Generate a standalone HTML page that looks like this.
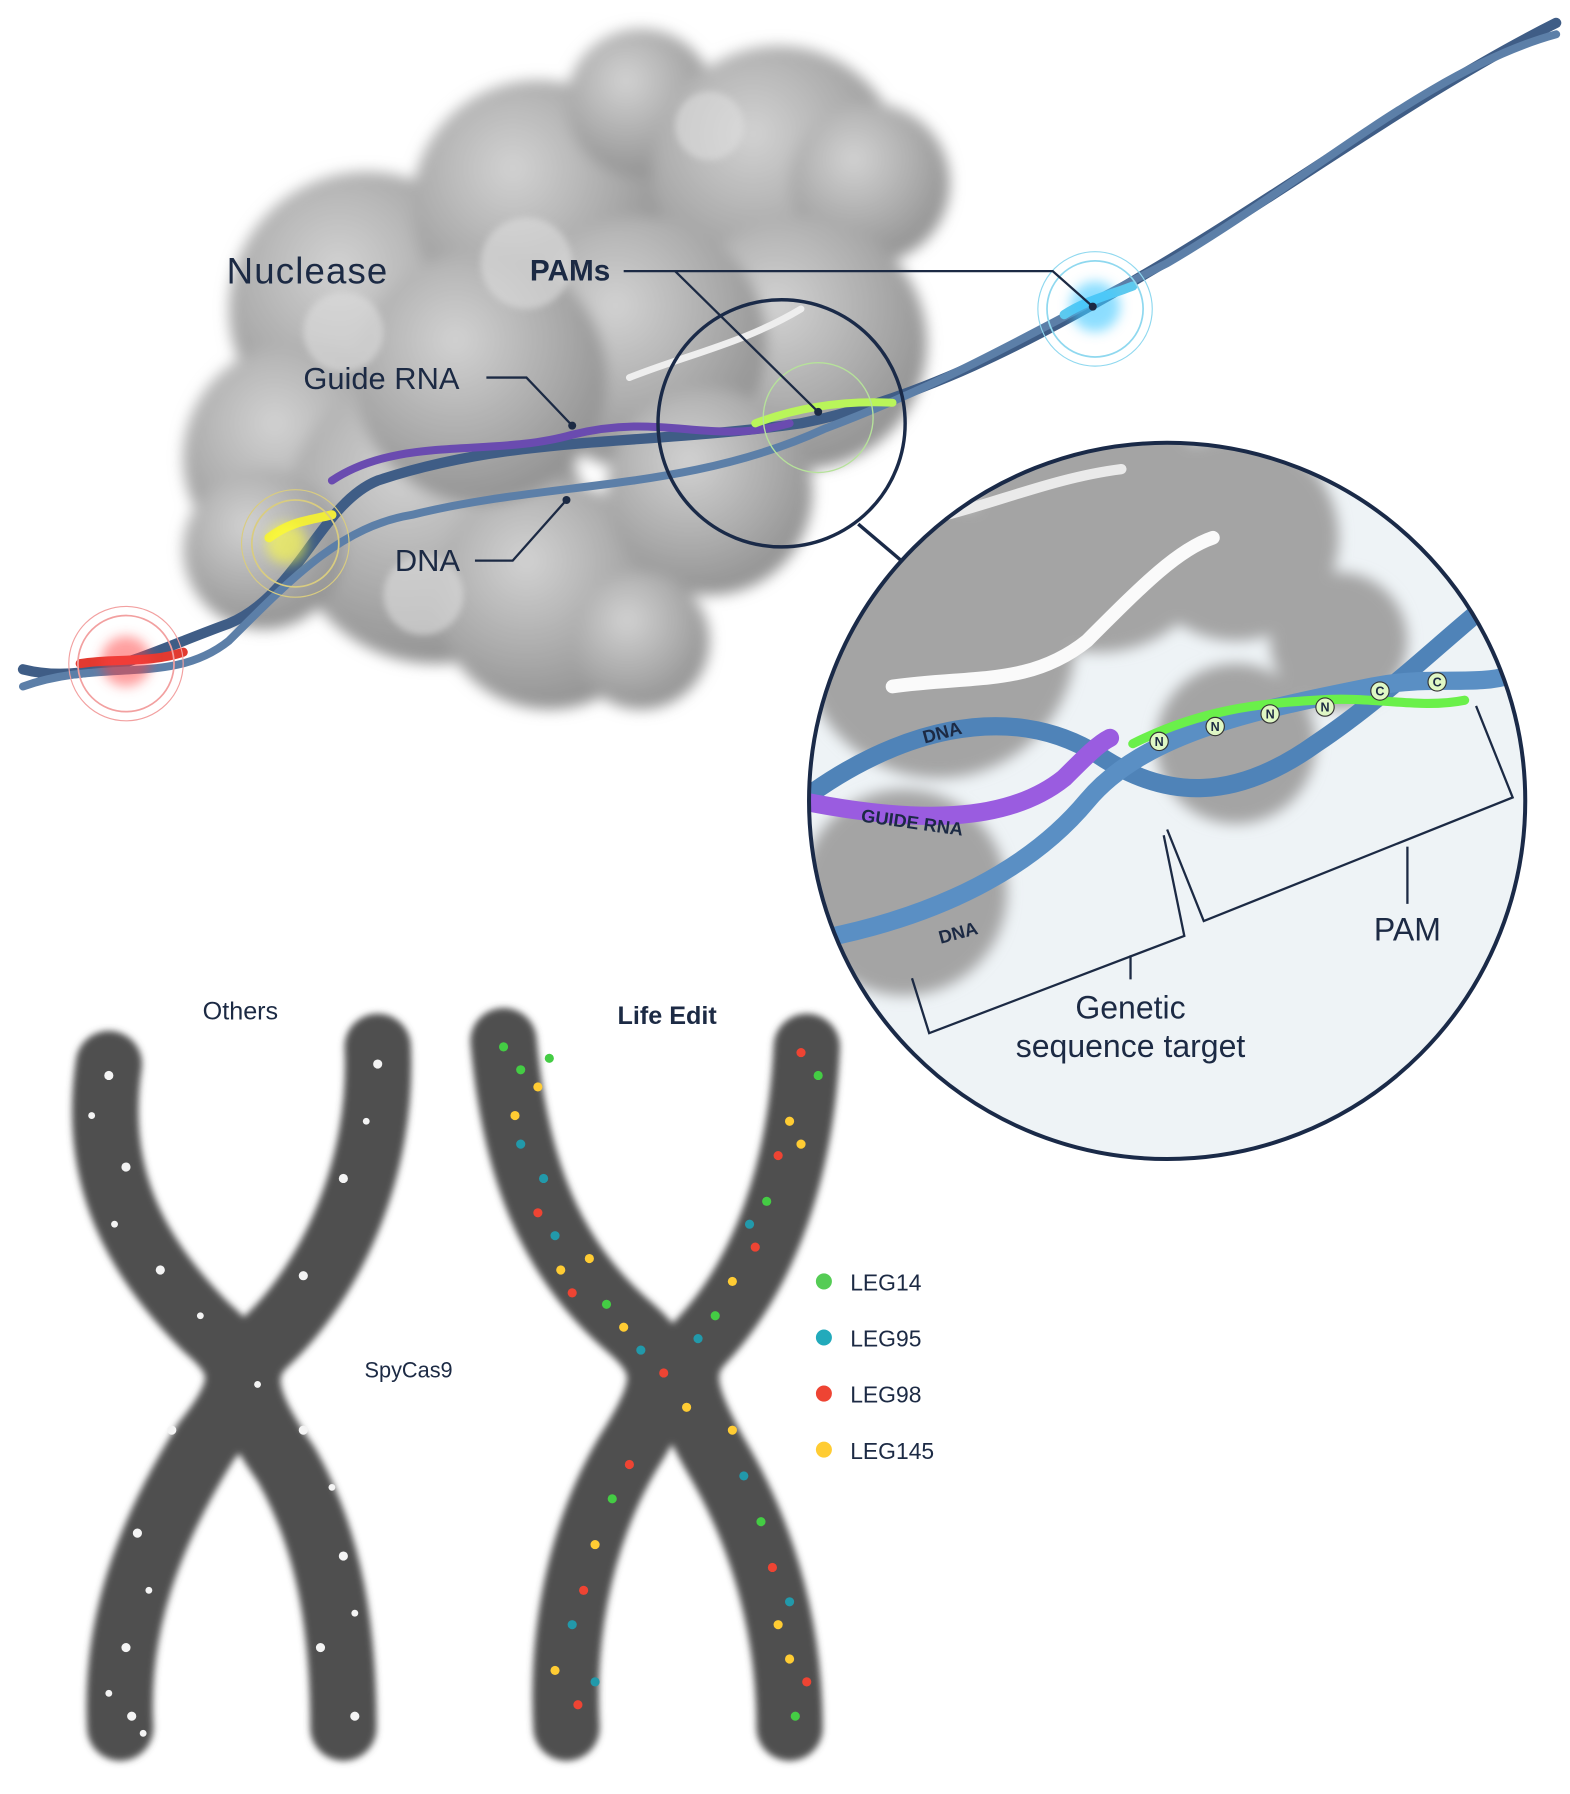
<!DOCTYPE html>
<html><head><meta charset="utf-8"><style>
html,body{margin:0;padding:0;background:#fff;}
svg{display:block;}
text{font-family:"Liberation Sans",sans-serif;fill:#1c2a44;}
</style></head><body>
<svg width="1570" height="1794" viewBox="0 0 1372 1568" xmlns="http://www.w3.org/2000/svg">
<defs>
<filter id="bl" x="-20%" y="-20%" width="140%" height="140%"><feGaussianBlur stdDeviation="6"/></filter>
<filter id="bl2"><feGaussianBlur stdDeviation="3"/></filter>
<filter id="glow" x="-50%" y="-50%" width="200%" height="200%"><feGaussianBlur stdDeviation="5"/></filter>
<radialGradient id="blob" cx="40%" cy="35%" r="70%"><stop offset="0" stop-color="#d2d2d2"/><stop offset="1" stop-color="#8f8f8f"/></radialGradient>
<clipPath id="zc"><circle cx="1020" cy="700" r="313"/></clipPath>
</defs>

<g filter="url(#bl)" fill="url(#blob)">
<circle cx="320" cy="270" r="120"/><circle cx="470" cy="180" r="110"/><circle cx="560" cy="90" r="65"/>
<circle cx="680" cy="150" r="110"/><circle cx="760" cy="160" r="70"/><circle cx="700" cy="300" r="110"/>
<circle cx="560" cy="300" r="110"/><circle cx="260" cy="400" r="100"/><circle cx="380" cy="450" r="130"/>
<circle cx="480" cy="520" r="100"/><circle cx="620" cy="430" r="90"/><circle cx="230" cy="480" r="70"/>
<circle cx="420" cy="330" r="110"/><circle cx="560" cy="560" r="60"/>
</g>
<g fill="#dedede" opacity=".6" filter="url(#bl2)">
<circle cx="460" cy="230" r="40"/><circle cx="300" cy="290" r="35"/><circle cx="620" cy="110" r="30"/><circle cx="370" cy="520" r="35"/>
</g>

<g fill="none" stroke-linecap="round">
<path d="M20,585 C80,600 130,570 200,545 C260,520 280,440 330,420 C450,380 560,390 700,370 C800,350 900,300 1000,240 C1120,170 1240,80 1360,20" stroke="#3f5d86" stroke-width="9"/>
<path d="M20,600 C90,575 150,600 200,560 C260,500 300,460 360,450 C480,420 600,430 720,375 C840,330 920,280 1020,230 C1140,160 1250,60 1360,30" stroke="#5c7fa8" stroke-width="7"/>
<path d="M290,420 C350,380 430,400 500,380 C580,360 620,390 690,370" stroke="#6a4bb0" stroke-width="7"/>
<path d="M660,370 C700,355 740,350 780,352" stroke="#b9f55a" stroke-width="7"/>
<path d="M235,470 C255,455 270,455 290,450" stroke="#f0ec3a" stroke-width="8"/>
<path d="M70,580 C100,575 130,580 160,570" stroke="#e23a30" stroke-width="8"/>
<path d="M930,275 C950,262 970,258 990,250" stroke="#5ec9ee" stroke-width="8"/>
<path d="M550,330 C600,310 650,300 700,270" stroke="#eee" stroke-width="6"/>
</g>
<g fill="none">
<circle cx="110" cy="580" r="42" stroke="#f2a0a0" stroke-width="1.5"/><circle cx="110" cy="580" r="50" stroke="#f2a0a0" stroke-width="1"/>
<circle cx="258" cy="475" r="38" stroke="#d9cc80" stroke-width="1.5"/><circle cx="258" cy="475" r="47" stroke="#d9cc80" stroke-width="1"/>
<circle cx="957" cy="270" r="42" stroke="#8fd8ef" stroke-width="1.5"/><circle cx="957" cy="270" r="50" stroke="#8fd8ef" stroke-width="1"/>
<circle cx="715" cy="365" r="48" stroke="#b6e29a" stroke-width="1.2"/>
</g>
<circle cx="110" cy="578" r="22" fill="#ff4040" opacity=".5" filter="url(#glow)"/>
<circle cx="957" cy="268" r="22" fill="#40c8ff" opacity=".6" filter="url(#glow)"/>
<circle cx="250" cy="475" r="18" fill="#ffff40" opacity=".6" filter="url(#glow)"/>

<text x="198" y="248" font-size="32" letter-spacing="1">Nuclease</text>
<text x="463" y="245" font-size="26" font-weight="bold">PAMs</text>
<text x="265" y="340" font-size="27">Guide RNA</text>
<text x="345" y="499" font-size="27">DNA</text>
<g stroke="#1c2a44" stroke-width="2" fill="none">
<polyline points="545,237 920,237 955,268"/>
<line x1="590" y1="237" x2="715" y2="360"/>
<polyline points="425,330 460,330 500,372"/>
<polyline points="415,490 448,490 495,437"/>
</g>
<g fill="#1c2a44"><circle cx="955" cy="268" r="3.5"/><circle cx="715" cy="360" r="3.5"/><circle cx="500" cy="372" r="3.5"/><circle cx="495" cy="437" r="3.5"/></g>

<circle cx="683" cy="370" r="108" fill="none" stroke="#1a2a48" stroke-width="3"/>
<line x1="750" y1="458" x2="790" y2="492" stroke="#1a2a48" stroke-width="3"/>

<circle cx="1020" cy="700" r="313" fill="#eef3f6"/>
<g clip-path="url(#zc)">
<g filter="url(#bl)" fill="#a4a4a4">
<circle cx="820" cy="560" r="120"/><circle cx="960" cy="460" r="110"/><circle cx="1080" cy="470" r="90"/>
<circle cx="790" cy="780" r="90"/><circle cx="1080" cy="650" r="70"/><circle cx="1170" cy="560" r="60"/>
</g>
<g fill="none" stroke-linecap="round">
<path d="M780,600 C850,590 900,600 950,560 C1000,510 1030,480 1060,470" stroke="#fafafa" stroke-width="12"/>
<path d="M760,460 C830,460 900,420 980,410" stroke="#eaeaea" stroke-width="9"/>
<path d="M700,700 C780,640 880,610 960,660 C1020,700 1080,700 1150,650 C1210,610 1260,560 1310,520" stroke="#4f83b8" stroke-width="16"/>
<path d="M720,820 C820,800 900,760 950,700 C1000,640 1100,620 1200,600 C1250,590 1290,600 1320,590" stroke="#5a8fc4" stroke-width="16"/>
<path d="M700,700 C800,720 880,720 930,680 C950,660 960,650 970,645" stroke="#9a5ce0" stroke-width="16"/>
<path d="M990,650 C1050,620 1100,615 1150,612 C1200,608 1240,620 1280,612" stroke="#6af04a" stroke-width="8"/>
</g>
<g fill="#dff7c4" stroke="#333" stroke-width="1"><circle cx="1013" cy="648" r="8"/><circle cx="1062" cy="635" r="8"/><circle cx="1110" cy="624" r="8"/><circle cx="1158" cy="618" r="8"/><circle cx="1206" cy="604" r="8"/><circle cx="1256" cy="596" r="8"/></g>
<g font-size="11" font-weight="bold" text-anchor="middle"><text x="1013" y="652">N</text><text x="1062" y="639">N</text><text x="1110" y="628">N</text><text x="1158" y="622">N</text><text x="1206" y="608">C</text><text x="1256" y="600">C</text></g>
<text x="808" y="650" font-size="16" font-weight="bold" transform="rotate(-15 808 650)">DNA</text>
<text x="752" y="718" font-size="16" font-weight="bold" fill="#2d1d5a" transform="rotate(8 752 718)">GUIDE RNA</text>
<text x="822" y="825" font-size="16" font-weight="bold" transform="rotate(-15 822 825)">DNA</text>
</g>
<circle cx="1020" cy="700" r="313" fill="none" stroke="#1a2a48" stroke-width="3.5"/>
<g stroke="#1c2a44" stroke-width="2" fill="none">
<polyline points="797,855 812,903 1035,818 1017,730"/>
<line x1="988" y1="835" x2="988" y2="856"/>
<polyline points="1020,725 1052,805 1322,697 1290,617"/>
<line x1="1230" y1="740" x2="1230" y2="790"/>
</g>
<text x="1230" y="822" font-size="28" text-anchor="middle">PAM</text>
<text x="988" y="890" font-size="28" text-anchor="middle">Genetic</text>
<text x="988" y="924" font-size="28" text-anchor="middle">sequence target</text>

<g fill="none" stroke="#505050" stroke-width="58" stroke-linecap="round" filter="url(#bl2)">
<path d="M95,930 C80,1030 120,1100 180,1160 C215,1190 220,1210 180,1260 C130,1340 100,1420 105,1510"/>
<path d="M330,915 C335,1020 290,1120 230,1175 C205,1200 215,1230 250,1280 C290,1350 300,1430 300,1510"/>
<path d="M440,910 C450,1020 480,1100 550,1160 C585,1190 585,1210 555,1260 C510,1330 490,1420 495,1510"/>
<path d="M705,915 C700,1020 670,1110 615,1170 C590,1195 595,1220 630,1280 C670,1350 690,1430 690,1510"/>
</g>
<g fill="#f4f4f4">
<circle cx="95" cy="940" r="4"/><circle cx="110" cy="1020" r="4"/><circle cx="140" cy="1110" r="4"/><circle cx="175" cy="1150" r="3"/><circle cx="330" cy="930" r="4"/><circle cx="300" cy="1030" r="4"/><circle cx="265" cy="1115" r="4"/><circle cx="150" cy="1250" r="4"/><circle cx="120" cy="1340" r="4"/><circle cx="110" cy="1440" r="4"/><circle cx="115" cy="1500" r="4"/><circle cx="265" cy="1250" r="4"/><circle cx="300" cy="1360" r="4"/><circle cx="280" cy="1440" r="4"/><circle cx="310" cy="1500" r="4"/><circle cx="225" cy="1210" r="3"/>
<circle cx="80" cy="975" r="3"/><circle cx="100" cy="1070" r="3"/><circle cx="320" cy="980" r="3"/><circle cx="130" cy="1390" r="3"/><circle cx="95" cy="1480" r="3"/><circle cx="290" cy="1300" r="3"/><circle cx="310" cy="1410" r="3"/><circle cx="125" cy="1515" r="3"/>
</g>
<g>
<circle cx="440" cy="915" r="4" fill="#4c4"/><circle cx="470" cy="950" r="4" fill="#fc3"/><circle cx="455" cy="1000" r="4" fill="#29a"/><circle cx="470" cy="1060" r="4" fill="#e43"/><circle cx="490" cy="1110" r="4" fill="#fc3"/><circle cx="530" cy="1140" r="4" fill="#4c4"/><circle cx="560" cy="1180" r="4" fill="#29a"/><circle cx="600" cy="1230" r="4" fill="#fc3"/><circle cx="550" cy="1280" r="4" fill="#e43"/><circle cx="520" cy="1350" r="4" fill="#fc3"/><circle cx="500" cy="1420" r="4" fill="#29a"/><circle cx="505" cy="1490" r="4" fill="#e43"/><circle cx="700" cy="920" r="4" fill="#e43"/><circle cx="690" cy="980" r="4" fill="#fc3"/><circle cx="670" cy="1050" r="4" fill="#4c4"/><circle cx="640" cy="1120" r="4" fill="#fc3"/><circle cx="610" cy="1170" r="4" fill="#29a"/><circle cx="650" cy="1290" r="4" fill="#29a"/><circle cx="675" cy="1370" r="4" fill="#e43"/><circle cx="690" cy="1450" r="4" fill="#fc3"/><circle cx="695" cy="1500" r="4" fill="#4c4"/><circle cx="485" cy="1080" r="4" fill="#29a"/><circle cx="660" cy="1090" r="4" fill="#e43"/>
<circle cx="455" cy="935" r="4" fill="#4c4"/><circle cx="480" cy="925" r="4" fill="#4c4"/><circle cx="450" cy="975" r="4" fill="#fc3"/><circle cx="475" cy="1030" r="4" fill="#29a"/><circle cx="500" cy="1130" r="4" fill="#e43"/><circle cx="515" cy="1100" r="4" fill="#fc3"/><circle cx="545" cy="1160" r="4" fill="#fc3"/><circle cx="715" cy="940" r="4" fill="#4c4"/><circle cx="680" cy="1010" r="4" fill="#e43"/><circle cx="700" cy="1000" r="4" fill="#fc3"/><circle cx="655" cy="1070" r="4" fill="#29a"/><circle cx="625" cy="1150" r="4" fill="#4c4"/><circle cx="580" cy="1200" r="4" fill="#e43"/><circle cx="535" cy="1310" r="4" fill="#4c4"/><circle cx="510" cy="1390" r="4" fill="#e43"/><circle cx="485" cy="1460" r="4" fill="#fc3"/><circle cx="520" cy="1470" r="4" fill="#29a"/><circle cx="640" cy="1250" r="4" fill="#fc3"/><circle cx="665" cy="1330" r="4" fill="#4c4"/><circle cx="690" cy="1400" r="4" fill="#29a"/><circle cx="705" cy="1470" r="4" fill="#e43"/><circle cx="680" cy="1420" r="4" fill="#fc3"/>
</g>
<text x="210" y="891" font-size="22" text-anchor="middle">Others</text>
<text x="583" y="895" font-size="22" font-weight="bold" text-anchor="middle">Life Edit</text>
<text x="357" y="1204" font-size="19" text-anchor="middle">SpyCas9</text>
<circle cx="720" cy="1120" r="7" fill="#5c5"/><text x="743" y="1128" font-size="20">LEG14</text>
<circle cx="720" cy="1169" r="7" fill="#2ab"/><text x="743" y="1177" font-size="20">LEG95</text>
<circle cx="720" cy="1218" r="7" fill="#e43"/><text x="743" y="1226" font-size="20">LEG98</text>
<circle cx="720" cy="1267" r="7" fill="#fc3"/><text x="743" y="1275" font-size="20">LEG145</text>
</svg>
</body></html>
